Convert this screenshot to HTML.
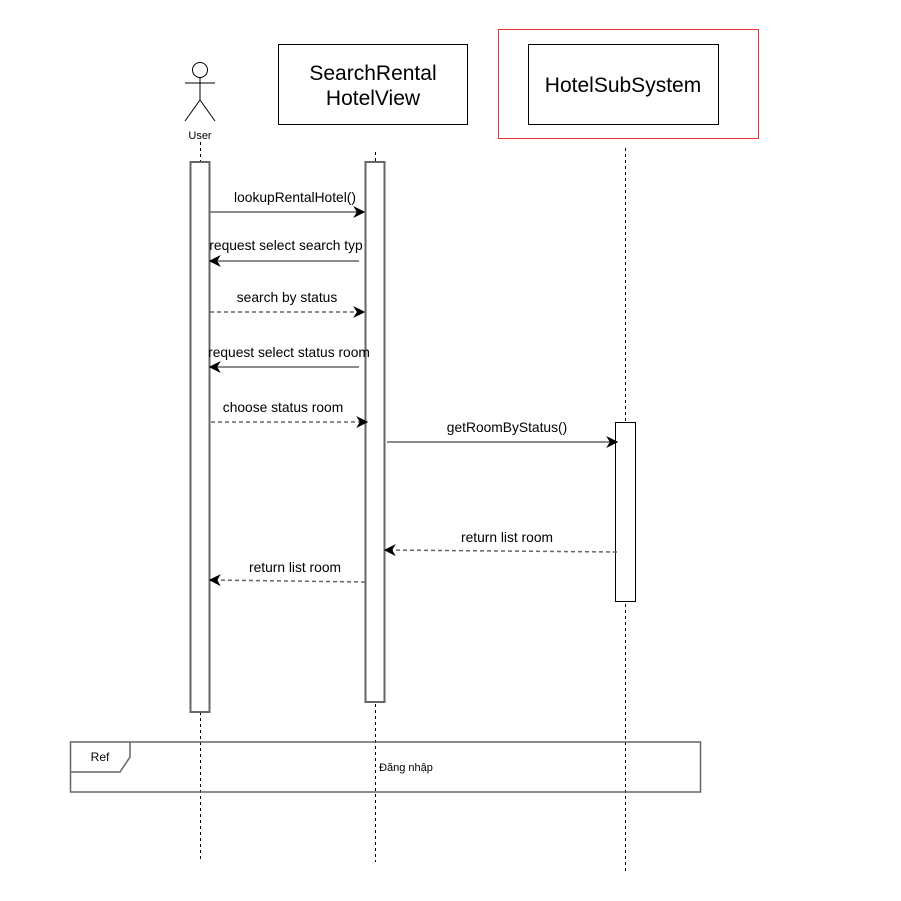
<!DOCTYPE html>
<html><head><meta charset="utf-8"><style>html,body{margin:0;padding:0;background:#fff}svg{display:block}text{font-family:"Liberation Sans",Arial,sans-serif;fill:#000}</style></head>
<body>
<svg width="901" height="901" viewBox="0 0 901 901" xmlns="http://www.w3.org/2000/svg">
<defs>
<marker id="a" viewBox="0 0 10 10" refX="9" refY="5" markerWidth="12" markerHeight="12" markerUnits="userSpaceOnUse" orient="auto"><path d="M0,0 L10,5 L0,10 L3,5 Z" fill="#000"/></marker>
</defs>
<g stroke="#000" stroke-width="1" stroke-dasharray="3,3" fill="none">
<line x1="200.5" y1="142" x2="200.5" y2="862"/>
<line x1="375.5" y1="152" x2="375.5" y2="862"/>
<line x1="625.5" y1="148" x2="625.5" y2="872"/>
</g>
<g stroke="#000" stroke-width="1" fill="#fff">
<circle cx="200" cy="70" r="7.5"/>
<line x1="200" y1="77.5" x2="200" y2="100"/>
<line x1="185" y1="83" x2="215" y2="83"/>
<line x1="200" y1="100" x2="185" y2="121"/>
<line x1="200" y1="100" x2="215" y2="121"/>
</g>
<text x="200" y="139" font-size="11" text-anchor="middle">User</text>
<rect x="278.5" y="44.5" width="189" height="80" fill="#fff" stroke="#000"/>
<text x="373" y="80" font-size="21" text-anchor="middle">SearchRental</text>
<text x="373" y="105" font-size="21" text-anchor="middle">HotelView</text>
<rect x="498.5" y="29.5" width="260" height="109" fill="#fff" stroke="#e33"/>
<rect x="528.5" y="44.5" width="190" height="80" fill="#fff" stroke="#000"/>
<text x="623" y="92" font-size="21" text-anchor="middle">HotelSubSystem</text>
<rect x="190.5" y="162" width="19" height="550" fill="#fff" stroke="#666" stroke-width="2"/>
<rect x="365.5" y="162" width="19" height="540" fill="#fff" stroke="#666" stroke-width="2"/>
<rect x="615.5" y="422.5" width="20" height="179" fill="#fff" stroke="#000"/>
<g stroke="#666" stroke-width="1.5" fill="none">
<line x1="210" y1="212" x2="364" y2="212" marker-end="url(#a)"/>
<line x1="359" y1="261" x2="210" y2="261" marker-end="url(#a)"/>
<line x1="210" y1="312" x2="364" y2="312" stroke-dasharray="4,3" marker-end="url(#a)"/>
<line x1="359" y1="367" x2="210" y2="367" marker-end="url(#a)"/>
<line x1="211" y1="422" x2="367" y2="422" stroke-dasharray="4,3" marker-end="url(#a)"/>
<line x1="387" y1="442" x2="617" y2="442" marker-end="url(#a)"/>
<line x1="617" y1="552" x2="385" y2="550" stroke-dasharray="4,3" marker-end="url(#a)"/>
<line x1="365" y1="582" x2="210" y2="580" stroke-dasharray="4,3" marker-end="url(#a)"/>
</g>
<g font-size="13.8" text-anchor="middle">
<text x="295" y="202">lookupRentalHotel()</text>
<text x="286" y="250">request select search typ</text>
<text x="287" y="302">search by status</text>
<text x="289" y="357">request select status room</text>
<text x="283" y="412">choose status room</text>
<text x="507" y="432">getRoomByStatus()</text>
<text x="507" y="542">return list room</text>
<text x="295" y="572">return list room</text>
</g>
<rect x="70.5" y="742" width="630" height="50" fill="none" stroke="#666" stroke-width="1.5"/>
<path d="M70.5,772 L120,772 L130,757 L130,742" fill="none" stroke="#666" stroke-width="1.5"/>
<text x="100" y="761" font-size="12" text-anchor="middle">Ref</text>
<text x="406" y="771" font-size="11" text-anchor="middle">Đăng nhập</text>
</svg>
</body></html>
